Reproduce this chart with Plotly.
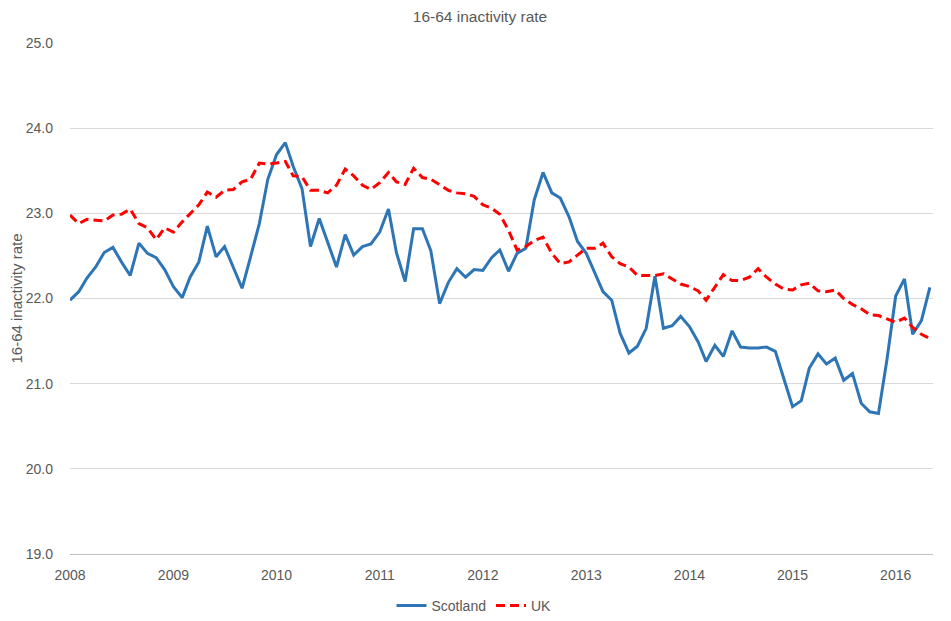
import pandas as pd
import plotly.graph_objects as go

# monthly, Jan 2008 - May 2016
months = pd.date_range("2008-01-01", periods=101, freq="MS")

scotland = [
    21.98, 22.08, 22.24, 22.37, 22.54, 22.60, 22.43, 22.27, 22.65, 22.53, 22.48, 22.34,
    22.14, 22.01, 22.25, 22.43, 22.85, 22.49, 22.61, 22.37, 22.12, 22.49, 22.88, 23.40,
    23.69, 23.83, 23.55, 23.29, 22.61, 22.94, 22.67, 22.37, 22.75, 22.51, 22.61, 22.64,
    22.78, 23.05, 22.54, 22.20, 22.82, 22.82, 22.56, 21.94, 22.19, 22.35, 22.25, 22.34,
    22.33, 22.48, 22.57, 22.32, 22.53, 22.59, 23.16, 23.48, 23.24, 23.18, 22.96, 22.67,
    22.53, 22.30, 22.08, 21.98, 21.59, 21.36, 21.44, 21.65, 22.26, 21.65, 21.68, 21.79,
    21.67, 21.49, 21.26, 21.45, 21.32, 21.62, 21.43, 21.42, 21.42, 21.43, 21.38, 21.06,
    20.73, 20.80, 21.18, 21.35, 21.23, 21.30, 21.04, 21.12, 20.77, 20.67, 20.65, 21.28,
    22.03, 22.23, 21.58, 21.74, 22.13,
]

uk = [
    22.98, 22.88, 22.93, 22.92, 22.91, 22.98, 22.99, 23.05, 22.88, 22.83, 22.69, 22.83,
    22.78, 22.90, 23.00, 23.10, 23.25, 23.19, 23.27, 23.28, 23.37, 23.40, 23.59, 23.58,
    23.59, 23.61, 23.44, 23.43, 23.27, 23.27, 23.24, 23.33, 23.52, 23.44, 23.33, 23.28,
    23.36, 23.48, 23.37, 23.34, 23.53, 23.42, 23.40, 23.34, 23.27, 23.24, 23.23, 23.20,
    23.10, 23.06, 22.99, 22.80, 22.57, 22.61, 22.68, 22.72, 22.53, 22.41, 22.43, 22.51,
    22.59, 22.59, 22.65, 22.49, 22.41, 22.37, 22.27, 22.27, 22.27, 22.29, 22.23, 22.17,
    22.14, 22.09, 21.98, 22.14, 22.28, 22.21, 22.21, 22.25, 22.35, 22.25, 22.17, 22.11,
    22.10, 22.16, 22.18, 22.09, 22.08, 22.10, 22.00, 21.93, 21.88, 21.81, 21.80, 21.76,
    21.72, 21.77, 21.66, 21.58, 21.53,
]

y_ticks = [19, 20, 21, 22, 23, 24, 25]

FONT = "Liberation Sans, Arial, sans-serif"
GREY = "#595959"
W, H = 951, 621

fig = go.Figure()
fig.add_trace(go.Scatter(
    x=months, y=scotland, name="Scotland", mode="lines",
    line=dict(color="#2E75B6", width=3),
))
fig.add_trace(go.Scatter(
    x=months, y=uk, name="UK", mode="lines",
    line=dict(color="#FF0000", width=3, dash="9px,5px"),
))

# the page body adds an 8px margin, so everything is placed 8px up/left
fig.update_layout(
    width=W, height=H,
    paper_bgcolor="white", plot_bgcolor="white",
    margin=dict(l=62, r=26, t=35, b=75, autoexpand=False),
    font=dict(family=FONT, size=14, color=GREY),
    title=dict(text="16-64 inactivity rate", x=(480 - 8) / W, xanchor="center",
               y=1 - 8.5 / H, yanchor="middle", font=dict(size=15.5, color=GREY)),
    showlegend=True,
    legend=dict(orientation="h", xref="container", yref="container",
                x=(474 - 8) / W, xanchor="center", y=1 - 598 / H, yanchor="middle",
                font=dict(size=14, color=GREY)),
)
fig.update_xaxes(
    range=["2008-01-01", "2016-05-12"], automargin=False,
    dtick="M12", tick0="2008-01-01", tickformat="%Y",
    showgrid=False, showline=True, linecolor="#bfbfbf", linewidth=1,
    ticks="", ticklabelstandoff=8, tickfont=dict(size=14, color=GREY),
)
fig.update_yaxes(
    range=[19, 25], tickvals=y_ticks, tickformat=".1f", automargin=False,
    showgrid=True, gridcolor="#d9d9d9", gridwidth=1, zeroline=False,
    ticks="", ticklabelstandoff=16, tickfont=dict(size=14, color=GREY),
    title=dict(text="16-64 inactivity rate", font=dict(size=15, color=GREY), standoff=0),
)

fig.write_html("out.html")
